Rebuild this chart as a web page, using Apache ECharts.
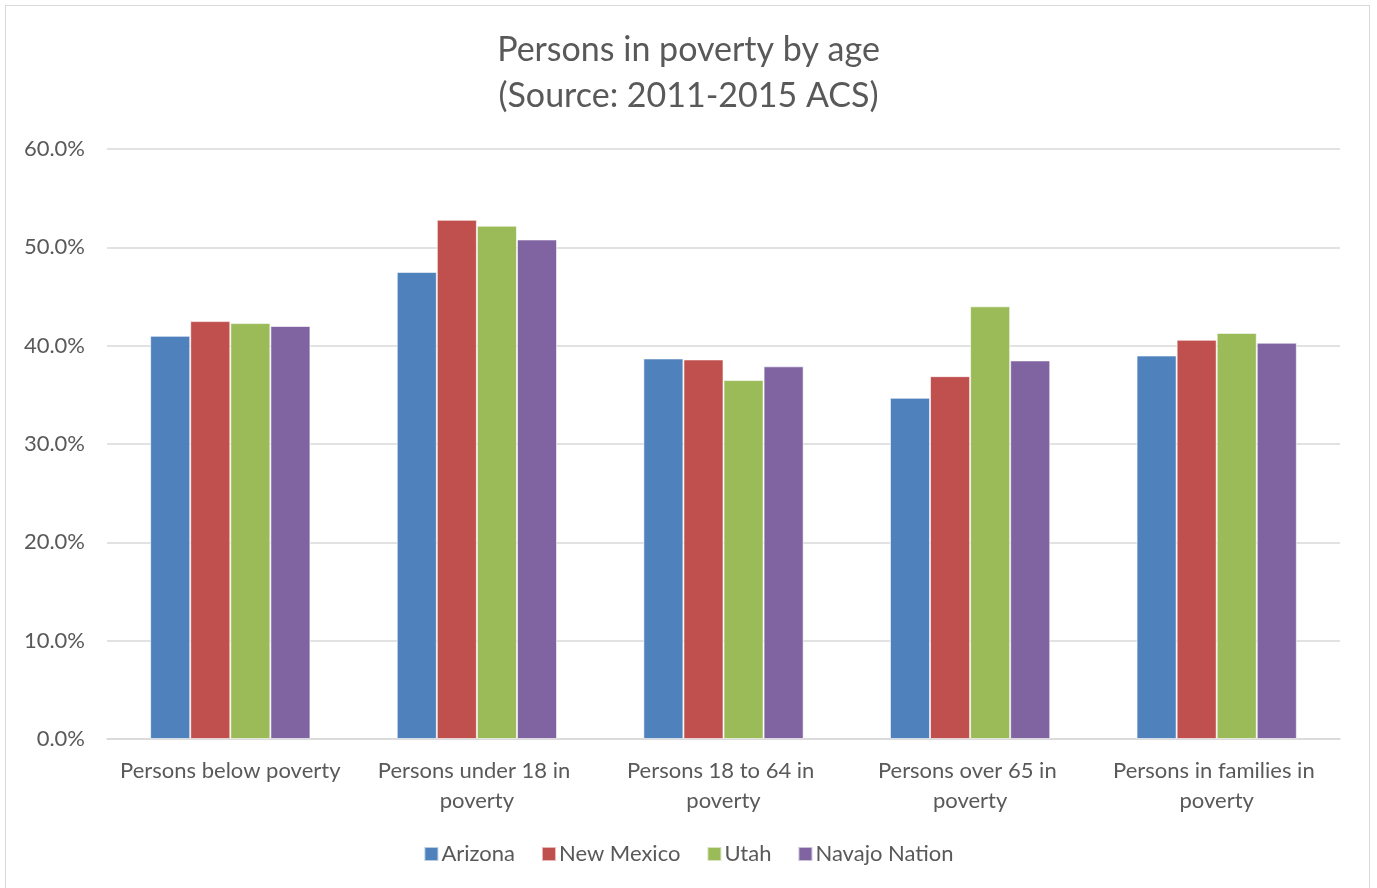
<!DOCTYPE html>
<html><head><meta charset="utf-8">
<script src="https://cdn.jsdelivr.net/npm/echarts@6/dist/echarts.min.js"></script>
<style>
html,body{margin:0;padding:0;background:#fff;overflow:hidden}
#frame{position:absolute;left:5px;top:5px;width:1365px;height:900px;border:1px solid #d9d9d9;box-sizing:border-box}
#c{position:absolute;left:0;top:0;width:1377px;height:888px}
</style></head>
<body><div id="frame"></div><div id="c"></div>
<script>
const categories = ["Persons below poverty","Persons under 18 in poverty","Persons 18 to 64 in poverty","Persons over 65 in poverty","Persons in families in poverty"];
const seriesNames = ["Arizona","New Mexico","Utah","Navajo Nation"];
const arizona = [41.0, 47.5, 38.7, 34.7, 39.0];
const newMexico = [42.5, 52.8, 38.6, 36.9, 40.6];
const utah = [42.3, 52.2, 36.5, 44.0, 41.3];
const navajo = [42.0, 50.8, 37.9, 38.5, 40.3];
const yTicks = [0, 10, 20, 30, 40, 50, 60];
const colors = ["#4f81bd","#c0504d","#9bbb59","#8064a2"];
const values = [arizona, newMexico, utah, navajo];
const font = "Lato, 'Open Sans', sans-serif";
const chart = echarts.init(document.getElementById('c'));
chart.setOption({
  animation:false,
  color:colors,
  title:{text:"Persons in poverty by age\n(Source: 2011-2015 ACS)",left:'center',top:22,
    textStyle:{fontFamily:font,fontSize:34,fontWeight:'normal',color:'#595959',lineHeight:46}},
  legend:{bottom:18,left:'center',itemWidth:14,itemHeight:14,itemGap:26,icon:'rect',
    textStyle:{fontFamily:font,fontSize:22,color:'#595959',padding:[0,0,0,-2]},data:seriesNames},
  grid:{left:107,right:37,top:149,bottom:149,containLabel:false},
  xAxis:{type:'category',data:categories,
    axisLine:{lineStyle:{color:'#d9d9d9',width:1.5}},axisTick:{show:false},
    axisLabel:{fontFamily:font,fontSize:22,color:'#595959',interval:0,margin:17,lineHeight:30,width:240,overflow:'break'}},
  yAxis:{type:'value',min:yTicks[0],max:yTicks[yTicks.length-1],interval:10,
    axisLine:{show:false},axisTick:{show:false},
    splitLine:{lineStyle:{color:'#d9d9d9',width:1.5}},
    axisLabel:{fontFamily:font,fontSize:22,color:'#595959',margin:22,formatter:v=>v.toFixed(1)+'%'}},
  series:seriesNames.map((n,i)=>({name:n,type:'bar',data:values[i],barGap:'0%',barCategoryGap:'35%',
    itemStyle:{color:colors[i],borderColor:'rgba(255,255,255,0.6)',borderWidth:1}}))
});
</script></body></html>
